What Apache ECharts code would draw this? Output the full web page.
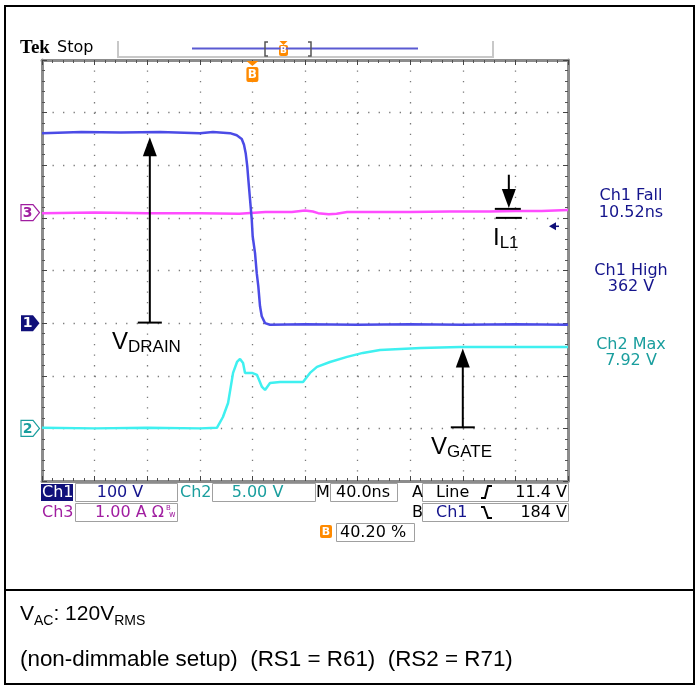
<!DOCTYPE html>
<html>
<head>
<meta charset="utf-8">
<title>Tek scope capture</title>
<script src="https://cdn.jsdelivr.net/npm/echarts@6/dist/echarts.min.js"></script>
<style>
  html, body { margin: 0; padding: 0; background: #fff; }
  #main { width: 699px; height: 686px; }
</style>
</head>
<body>
<div id="main"></div>
<script>
// horizontal: 40 ns/div, trigger B at 0 ns (40.20 % of record)
const timeMin = -160, timeMax = 240, timePerDiv = 40;

// Ch1 drain voltage (V), 100 V/div, ground 1 div below centre
const ch1Time  = [-160, -130, -100, -70, -40, -30, -17, -11.9, -8.1, -6.4, -5.1, -3.9, -3.1, -1.8, -0.5, 0.2, 2.0, 3.3, 4.5, 5.8, 7.1, 9.6, 13.4, 40, 80, 120, 160, 200, 240];
const ch1Volts = [361, 363, 362, 363, 361, 363, 361, 357, 350, 339, 323, 298, 273, 235, 197, 165, 133, 95, 70, 32, 13, 0, -3, -2, -3, -2, -3, -2, -3];

// Ch2 gate voltage (V), 5 V/div, ground 3 div below centre
const ch2Time  = [-160, -120, -80, -40, -27, -22.4, -18.5, -14.7, -11.7, -9.4, -7.1, -5.6, -0.3, 3.5, 7.3, 9.6, 13.4, 21, 31, 38.5, 43.8, 49.1, 59, 72, 84, 97, 128, 158, 200, 240];
const ch2Volts = [0.05, 0.0, 0.05, 0.0, 0.05, 1.08, 2.41, 5.27, 6.31, 6.60, 6.22, 5.27, 5.27, 5.08, 3.94, 3.65, 4.32, 4.41, 4.41, 4.41, 5.27, 5.84, 6.31, 6.79, 7.17, 7.45, 7.64, 7.74, 7.72, 7.74];

// Ch3 inductor current (A), 1 A/div, ground 1.1 div above centre
const ch3Time = [-160, -120, -80, -40, -10, 10, 30, 40, 46, 50, 58, 64, 72, 90, 120, 150, 180, 200, 220, 240];
const ch3Amps = [-0.01, 0.0, -0.01, -0.01, -0.02, 0.01, 0.01, 0.04, 0.02, -0.01, -0.03, -0.02, 0.01, 0.01, 0.01, 0.02, 0.02, 0.03, 0.03, 0.05];

const channels = [
  { name: 'Ch1', perDiv: 100, offsetDiv: -1,  trace: '#4b4be6', text: '#14148c' },
  { name: 'Ch2', perDiv: 5,   offsetDiv: -3,  trace: '#3ff0f0', text: '#1a9e9e' },
  { name: 'Ch3', perDiv: 1,   offsetDiv: 1.1, trace: '#ff4cff', text: '#a01ea0' }
];

const measureLabels = ['Ch1 Fall', '10.52ns', 'Ch1 High', '362 V', 'Ch2 Max', '7.92 V'];
const captionLine2 = '(non-dimmable setup)  (RS1 = R61)  (RS2 = R71)';

const chart = echarts.init(document.getElementById('main'));

const dotted = { color: '#7a7a7a', width: 1.3, type: [1.3, 9.22] };
const frameAxis = {
  axisLine: { show: true, onZero: false, lineStyle: { color: '#8c8c8c', width: 3 } },
  axisTick: { show: true, inside: true, length: 5, lineStyle: { color: '#444' } },
  minorTick: { show: true, splitNumber: 5, length: 3, lineStyle: { color: '#555' } },
  axisLabel: { show: false },
  splitLine: { show: false }
};

const chAxis = ch => ({
  type: 'value', show: false, position: 'left',
  min: (-4 - ch.offsetDiv) * ch.perDiv,
  max: (4 - ch.offsetDiv) * ch.perDiv
});

const pairs = (xs, ys) => xs.map((x, i) => [x, ys[i]]);

chart.setOption({
  animation: false,
  backgroundColor: '#fff',
  grid: { left: 42, top: 60, width: 526, height: 421, show: false },
  xAxis: [
    Object.assign({ type: 'value', min: timeMin, max: timeMax, interval: timePerDiv, position: 'bottom' }, frameAxis,
      { splitLine: { show: true, lineStyle: dotted } }),
    Object.assign({ type: 'value', min: timeMin, max: timeMax, interval: timePerDiv, position: 'top' }, frameAxis)
  ],
  yAxis: [
    Object.assign({ type: 'value', min: -4, max: 4, interval: 1, position: 'left' }, frameAxis,
      { splitLine: { show: true, lineStyle: dotted } }),
    Object.assign({ type: 'value', min: -4, max: 4, interval: 1, position: 'right' }, frameAxis),
    chAxis(channels[0]), chAxis(channels[1]), chAxis(channels[2])
  ],
  series: [
    { type: 'line', name: 'Ch3', xAxisIndex: 0, yAxisIndex: 4, data: pairs(ch3Time, ch3Amps),
      showSymbol: false, silent: true, lineStyle: { color: channels[2].trace, width: 2.5 }, z: 3 },
    { type: 'line', name: 'Ch2', xAxisIndex: 0, yAxisIndex: 3, data: pairs(ch2Time, ch2Volts),
      showSymbol: false, silent: true, lineStyle: { color: channels[1].trace, width: 2.5 }, z: 3 },
    { type: 'line', name: 'Ch1', xAxisIndex: 0, yAxisIndex: 2, data: pairs(ch1Time, ch1Volts),
      showSymbol: false, silent: true, lineStyle: { color: channels[0].trace, width: 2.5 }, z: 4 }
  ]
});

// ---- overlay: scope readouts and annotations ----
const px = (axis, t, v) => chart.convertToPixel({ xAxisIndex: 0, yAxisIndex: axis }, [t, v]);
const ui = 'DejaVu Sans';
const G = [];

function text(x, y, s, fill, font, align) {
  G.push({ type: 'text', x: x, y: y, z: 20, silent: true,
    style: { text: s, fill: fill, font: font, align: align || 'left', verticalAlign: 'middle',
             textAlign: align || 'left', textVerticalAlign: 'middle' } });
}
function rect(x, y, w, h, stroke, fill, r) {
  G.push({ type: 'rect', z: 15, silent: true, shape: { x: x, y: y, width: w, height: h, r: r || 0 },
    style: { stroke: stroke || null, fill: fill || 'none', lineWidth: 1 } });
}
function poly(points, stroke, width, closed, fill) {
  G.push({ type: closed ? 'polygon' : 'polyline', z: 18, silent: true, shape: { points: points },
    style: { stroke: stroke || null, fill: fill || 'none', lineWidth: width || 1 } });
}

// outer page frame and divider
rect(5, 6, 689, 678, '#000', 'none');
G[G.length - 1].style.lineWidth = 2;
poly([[5, 590], [694, 590]], '#000', 2);

// header
text(20, 48, 'Tek', '#000', 'bold 19px "Liberation Serif"');
text(57, 48, 'Stop', '#000', '16px "' + ui + '"');
poly([[118, 41], [118, 57], [493, 57], [493, 41]], '#c8c8c8', 2);
poly([[192, 48.5], [418, 48.5]], '#5a5ad2', 2);
poly([[268, 42], [265, 42], [265, 56], [268, 56]], '#555', 1.5);
poly([[308, 42], [311, 42], [311, 56], [308, 56]], '#555', 1.5);
poly([[279.5, 41], [287.5, 41], [283.5, 45]], null, 1, true, '#ff8a00');
rect(279, 45, 9, 11, null, '#ff8a00', 2);
text(283.5, 50.5, 'B', '#fff', 'bold 9px "' + ui + '"', 'center');

// trigger position marker B at t = 0
const trg = px(2, 0, 0)[0];
poly([[trg - 6, 61], [trg + 6, 61], [trg, 66]], null, 1, true, '#ff8a00');
rect(trg - 6, 67, 12, 15, null, '#ff8a00', 2);
text(trg, 74.5, 'B', '#fff', 'bold 12px "' + ui + '"', 'center');

// channel ground markers
function marker(axis, label, style) {
  const y = px(axis, 0, 0)[1];
  const pts = [[21, y - 8], [33, y - 8], [39.5, y], [33, y + 8], [21, y + 8]];
  if (style.filled) poly(pts, null, 1, true, style.color);
  else poly(pts, style.color, 1.2, true, '#fff');
  text(27.5, y + 0.5, label, style.filled ? '#fff' : style.color, 'bold 14px "' + ui + '"', 'center');
}
marker(4, '3', { color: channels[2].text });
marker(2, '1', { color: '#10107a', filled: true });
marker(3, '2', { color: channels[1].text });

// Ch1 trigger level 184 V
const lvl = px(2, timeMax, 184);
poly([[lvl[0] - 19, lvl[1]], [lvl[0] - 12, lvl[1] - 4], [lvl[0] - 12, lvl[1] + 4]], null, 1, true, '#10107a');
poly([[lvl[0] - 13, lvl[1]], [lvl[0] - 9, lvl[1]]], '#10107a', 1.5);

// measurements on the right
const mCol = [channels[0].text, channels[0].text, channels[0].text, channels[0].text, channels[1].text, channels[1].text];
const mY = [196, 213, 271, 287, 345, 361];
measureLabels.forEach((s, i) => text(631, mY[i], s, mCol[i], '16px "' + ui + '"', 'center'));

// annotation arrows
function upArrow(axis, t, vTip, vBase) {
  const tip = px(axis, t, vTip), base = px(axis, t, vBase);
  poly([[tip[0] - 7, tip[1] + 19], [tip[0] + 7, tip[1] + 19], [tip[0], tip[1]]], null, 1, true, '#000');
  poly([[tip[0], tip[1] + 18], [base[0], base[1]]], '#000', 2);
  poly([[base[0] - 12, base[1]], [base[0] + 12, base[1]]], '#000', 2);
}
upArrow(2, -78, 353, 1);
upArrow(3, 160, 7.6, 0.1);

const il = px(4, 195, 0.09), ilTop = px(4, 195, 0.72), ilBar = px(4, 195, -0.1);
poly([[ilTop[0], ilTop[1]], [il[0], il[1] - 16]], '#000', 2);
poly([[il[0] - 7, il[1] - 19], [il[0] + 7, il[1] - 19], [il[0], il[1]]], null, 1, true, '#000');
poly([[il[0] - 14, il[1] + 1], [il[0] + 12, il[1] + 1]], '#000', 2);
poly([[ilBar[0] - 13, ilBar[1]], [ilBar[0] + 13, ilBar[1]]], '#000', 2);

function subLabel(x, yBottom, big, small) {
  G.push({ type: 'text', x: x, y: yBottom, z: 20, silent: true,
    style: { text: '{b|' + big + '}{s|' + small + '}', verticalAlign: 'bottom', textVerticalAlign: 'bottom',
      rich: { b: { font: '24px "Liberation Sans"', fill: '#000', verticalAlign: 'bottom', padding: [0, 0, 2, 0] },
              s: { font: '17px "Liberation Sans"', fill: '#000', verticalAlign: 'bottom' } } } });
}
subLabel(112, 356, 'V', 'DRAIN');
subLabel(431, 461, 'V', 'GATE');
subLabel(493, 252, 'I', 'L1');

// status bar
const f16 = '16px "' + ui + '"';
const navy = '#14148c';
rect(41, 484, 32, 17, null, '#10107a');
text(42, 492.5, 'Ch1', '#fff', f16);
rect(75.5, 483.5, 102, 18, '#a0a0a0');
text(120, 492.5, '100 V', navy, f16, 'center');
text(180, 492.5, 'Ch2', channels[1].text, f16);
rect(212.5, 483.5, 103, 18, '#a0a0a0');
text(257.5, 492.5, '5.00 V', channels[1].text, f16, 'center');
text(316, 492.5, 'M', '#000', f16);
rect(330.5, 483.5, 67, 18, '#a0a0a0');
text(363, 492.5, '40.0ns', '#000', f16, 'center');
text(412, 492.5, 'A', '#000', f16);
rect(422.5, 483.5, 146, 18, '#a0a0a0');
text(436, 492.5, 'Line', '#000', f16);
poly([[481, 498], [485, 498], [488, 486], [492, 486]], '#000', 2);
text(567, 492.5, '11.4 V', '#000', f16, 'right');

text(42, 512.5, 'Ch3', channels[2].text, f16);
rect(75.5, 503.5, 102, 18, '#a0a0a0');
text(95, 512.5, '1.00 A Ω', channels[2].text, f16);
text(166, 508, 'B', channels[2].text, '7px "' + ui + '"');
text(169, 515, 'w', channels[2].text, '8px "' + ui + '"');
text(412, 512.5, 'B', '#000', f16);
rect(422.5, 503.5, 146, 18, '#a0a0a0');
text(436, 512.5, 'Ch1', navy, f16);
poly([[481, 507], [484, 507], [488, 518], [492, 518]], '#000', 2);
text(567, 512.5, '184 V', '#000', f16, 'right');

rect(320, 525, 12, 13, null, '#ff8a00', 2);
text(326, 532, 'B', '#fff', 'bold 11px "' + ui + '"', 'center');
rect(336.5, 523.5, 78, 18, '#a0a0a0');
text(340, 532.5, '40.20 %', '#000', f16);

// caption
G.push({ type: 'text', x: 20, y: 628, z: 20, silent: true,
  style: { text: '{b|V}{s|AC}{b|: 120V}{s|RMS}', verticalAlign: 'bottom', textVerticalAlign: 'bottom',
    rich: { b: { font: '21px "Liberation Sans"', fill: '#000', verticalAlign: 'bottom', padding: [0, 0, 3, 0] },
            s: { font: '14px "Liberation Sans"', fill: '#000', verticalAlign: 'bottom' } } } });
text(20, 660, captionLine2, '#000', '22.4px "Liberation Sans"');

chart.setOption({ graphic: { elements: G } });
</script>
</body>
</html>
